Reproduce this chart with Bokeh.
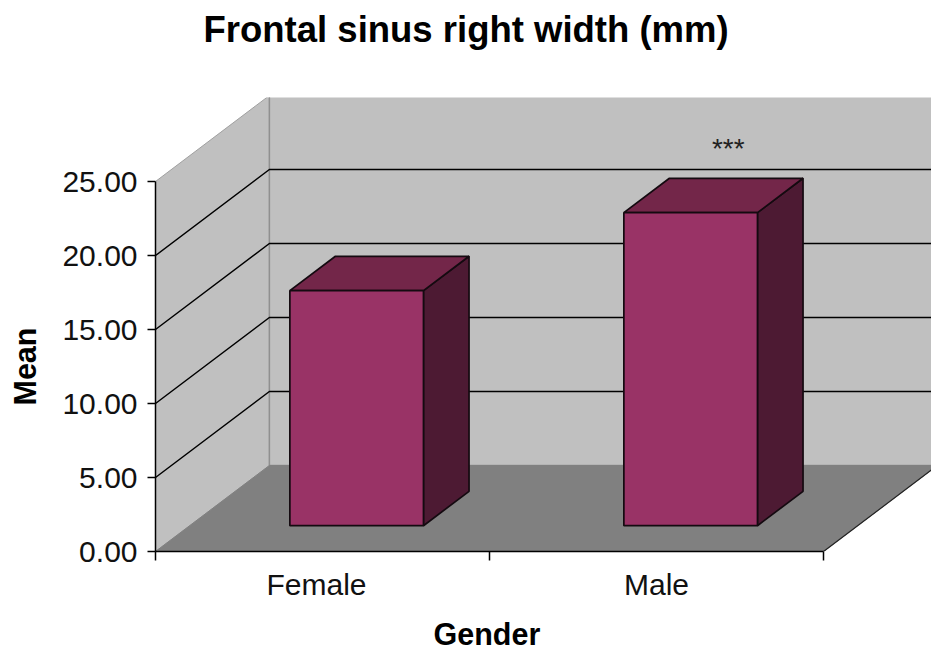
from bokeh.plotting import figure
from bokeh.models import FixedTicker, Range1d, Title
from bokeh.core.properties import value
from bokeh.embed import file_html
from bokeh.resources import INLINE

TITLE = "Frontal sinus right width (mm)"
X_LABEL = "Gender"
Y_LABEL = "Mean"
categories = ["Female", "Male"]
category_label_pos = [0.482, 1.5]
means = [15.88, 21.15]
notes = ["", "***"]
y_ticks = [0, 5, 10, 15, 20, 25]

# oblique 3-D projection, in data units
DX, DY = 0.341, 5.81
BAR_W, Z0, Z1 = 0.40, 0.30, 0.70
XMAX, YMAX = 776 / 334, 454 / 14.8
EDGE = "#140a10"
FONT = "Liberation Sans"


def proj(x, y, z):
    return x + z * DX, y + z * DY


def poly(p, pts, fill, line=None, width=1.0):
    xs, ys = zip(*pts)
    p.patch(list(xs), list(ys), fill_color=fill, line_color=line or fill,
            line_width=width)


p = figure(width=931, height=651, output_backend="svg", toolbar_location=None,
           x_range=Range1d(0, XMAX), y_range=Range1d(0, YMAX),
           min_border_left=155, min_border_right=0,
           min_border_top=97, min_border_bottom=100,
           outline_line_color=None, background_fill_color="white",
           border_fill_color="white")
p.grid.visible = False

n = len(categories)
# walls and floor
poly(p, [proj(0, 0, 0), proj(0, 0, 1), proj(0, max(y_ticks), 1), proj(0, max(y_ticks), 0)],
     "#c0c0c0", "#a0a0a0", 1)
poly(p, [proj(0, 0, 1), proj(XMAX, 0, 1), proj(XMAX, max(y_ticks), 1), proj(0, max(y_ticks), 1)],
     "#c0c0c0", "#909090", 1.5)
poly(p, [proj(0, 0, 0), proj(n, 0, 0), proj(n, 0, 1), proj(0, 0, 1)], "#808080", "#808080")
# right edge of the floor
a, b = proj(n, 0, 0), proj(n, 0, 1)
p.line([a[0], b[0]], [a[1], b[1]], line_color="#222222", line_width=1.2)

# gridlines
for v in y_ticks[1:-1]:
    a, b, c = proj(0, v, 0), proj(0, v, 1), proj(XMAX, v, 1)
    p.line([a[0], b[0], c[0]], [a[1], b[1], c[1]], line_color="#000000", line_width=1.5)

# bars
for i, m in enumerate(means):
    x0, x1 = i + 0.5 - BAR_W / 2, i + 0.5 + BAR_W / 2
    poly(p, [proj(x1, 0, Z0), proj(x1, 0, Z1), proj(x1, m, Z1), proj(x1, m, Z0)],
         "#4d1a33", EDGE, 1.7)
    poly(p, [proj(x0, m, Z0), proj(x1, m, Z0), proj(x1, m, Z1), proj(x0, m, Z1)],
         "#732649", EDGE, 1.7)
    poly(p, [proj(x0, 0, Z0), proj(x1, 0, Z0), proj(x1, m, Z0), proj(x0, m, Z0)],
         "#993366", EDGE, 1.7)
    if notes[i]:
        tx, ty = proj(i + 0.5, m, 0.63)
        p.text([tx], [ty + 2.45], text=[notes[i]], text_align="center",
               text_baseline="middle", text_font=value(FONT),
               text_font_size="28px", text_color="#222222")

# axes
xa = p.xaxis[0]
xa.ticker = FixedTicker(ticks=category_label_pos, minor_ticks=list(range(n + 1)))
xa.major_label_overrides = dict(zip(category_label_pos, categories))
xa.bounds = (0, n)
xa.major_tick_line_color = None
xa.minor_tick_out = 9
xa.minor_tick_in = 0
xa.minor_tick_line_color = "#000000"
xa.minor_tick_line_width = 1.5
xa.axis_line_color = "#000000"
xa.axis_line_width = 1.5
xa.major_label_standoff = 7

ya = p.yaxis[0]
ya.ticker = FixedTicker(ticks=y_ticks)
ya.major_label_overrides = {v: f"{v:.2f}" for v in y_ticks}
ya.bounds = (0, max(y_ticks))
ya.major_tick_out = 8
ya.major_tick_in = 0
ya.minor_tick_line_color = None
ya.major_tick_line_color = "#000000"
ya.major_tick_line_width = 1.5
ya.axis_line_color = "#000000"
ya.axis_line_width = 1.5
ya.major_label_standoff = 10

for ax in (xa, ya):
    ax.major_label_text_font = FONT
    ax.major_label_text_font_size = "30px"
    ax.major_label_text_color = "#111111"

common = dict(text_font=FONT, text_font_style="bold", text_color="#000000", align="left")
# spacers keep the free-standing titles at their distance from the frame
p.add_layout(Title(text=" ", text_font_size="2px", standoff=38), "above")
p.add_layout(Title(text=TITLE, offset=48, standoff=12, text_font_size="36.5px", **common), "above")
p.add_layout(Title(text=" ", text_font_size="2px", standoff=6), "below")
p.add_layout(Title(text=X_LABEL, offset=278, standoff=2, text_font_size="30.5px", **common), "below")
p.add_layout(Title(text=" ", text_font_size="2px", standoff=8), "left")
p.add_layout(Title(text=Y_LABEL, offset=146, standoff=11, text_font_size="30.5px", **common), "left")

open("out.html", "w").write(file_html(p, INLINE))
